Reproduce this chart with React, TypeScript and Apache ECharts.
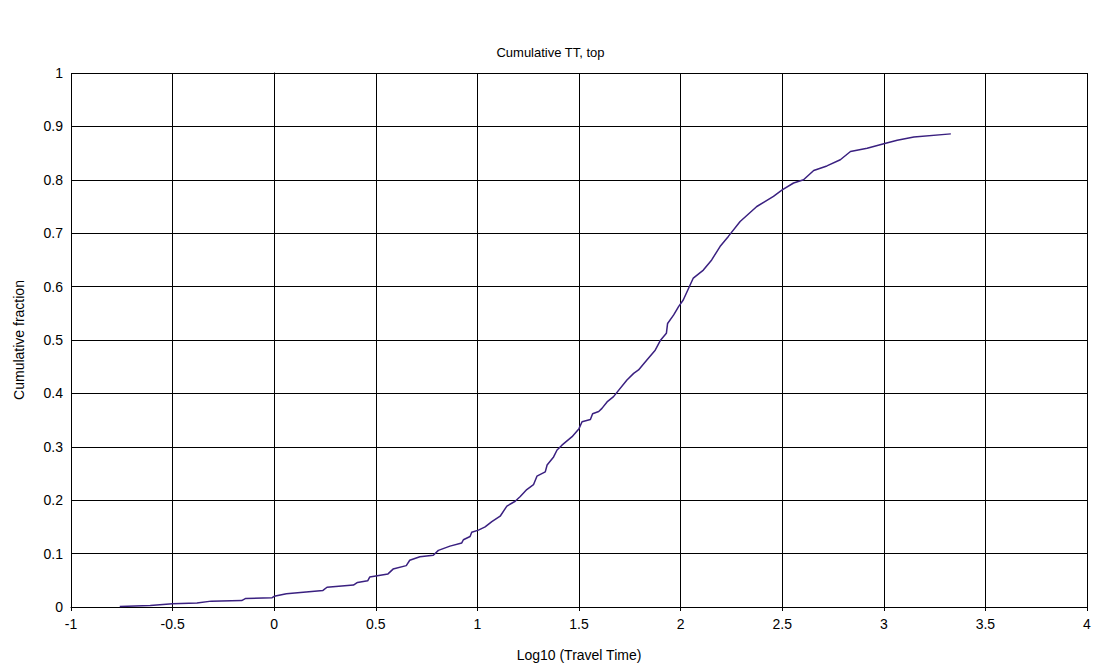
import React, { useEffect, useRef } from "react";
import * as echarts from "echarts";

const TITLE = "Cumulative TT, top";
const X_NAME = "Log10 (Travel Time)";
const Y_NAME = "Cumulative fraction";

const logTT: number[] = [
  -0.76, -0.61, -0.5, -0.38, -0.31, -0.16, -0.14, -0.01, 0.0, 0.06, 0.24, 0.26,
  0.39, 0.41, 0.46, 0.47, 0.56, 0.585, 0.65, 0.667, 0.717, 0.783, 0.808, 0.865,
  0.923, 0.931, 0.964, 0.972, 1.005, 1.038, 1.071, 1.112, 1.145, 1.186, 1.211,
  1.243, 1.276, 1.293, 1.334, 1.343, 1.375, 1.392, 1.416, 1.466, 1.5, 1.515,
  1.556, 1.567, 1.597, 1.613, 1.638, 1.67, 1.736, 1.769, 1.793, 1.834, 1.875,
  1.9, 1.93, 1.936, 1.966, 1.99, 2.013, 2.0625, 2.112, 2.153, 2.194, 2.235,
  2.293, 2.375, 2.457, 2.5, 2.556, 2.605, 2.655, 2.72, 2.786, 2.836, 2.918, 3.0,
  3.066, 3.148, 3.33,
];

const cumFraction: number[] = [
  0.001, 0.003, 0.006, 0.0075, 0.011, 0.012, 0.016, 0.0175, 0.02, 0.025, 0.031,
  0.037, 0.041, 0.046, 0.049, 0.056, 0.062, 0.071, 0.0775, 0.0875, 0.094, 0.097,
  0.106, 0.114, 0.12, 0.126, 0.132, 0.14, 0.144, 0.15, 0.16, 0.17, 0.189, 0.198,
  0.207, 0.22, 0.229, 0.245, 0.253, 0.266, 0.281, 0.294, 0.303, 0.319, 0.334,
  0.347, 0.351, 0.362, 0.366, 0.372, 0.384, 0.394, 0.425, 0.4375, 0.444, 0.4625,
  0.481, 0.499, 0.5125, 0.531, 0.547, 0.5625, 0.575, 0.616, 0.631, 0.65, 0.675,
  0.694, 0.722, 0.75, 0.769, 0.781, 0.794, 0.8, 0.8175, 0.826, 0.8375, 0.853,
  0.859, 0.8675, 0.874, 0.88, 0.886,
];

const X_TICKS = { min: -1, max: 4, interval: 0.5 };
const Y_TICKS = { min: 0, max: 1, interval: 0.1 };

export default function App() {
  const ref = useRef<HTMLDivElement>(null);
  useEffect(() => {
    if (!ref.current) return;
    const chart = echarts.init(ref.current, undefined, { renderer: "svg" });
    const font = "'Liberation Sans', Arial, Helvetica, sans-serif";
    const axisCommon = {
      axisLine: { show: true, lineStyle: { color: "#000", width: 1 } },
      axisTick: { show: true, inside: false, length: 4, lineStyle: { color: "#000" } },
      axisLabel: { color: "#000", fontSize: 14, fontFamily: font },
      splitLine: { show: true, lineStyle: { color: "#000", width: 1 } },
      nameTextStyle: { color: "#000", fontSize: 14, fontFamily: font },
    };
    chart.setOption({
      animation: false,
      backgroundColor: "#fff",
      title: {
        text: TITLE,
        left: "center",
        top: 41,
        textStyle: { color: "#000", fontSize: 13, fontWeight: "normal", fontFamily: font },
      },
      grid: {
        left: 71,
        right: 14,
        top: 73,
        bottom: 60,
        containLabel: false,
        outerBoundsMode: "none",
      },
      xAxis: {
        type: "value",
        ...X_TICKS,
        ...axisCommon,
        axisLabel: { ...axisCommon.axisLabel, margin: 10 },
        name: X_NAME,
        nameLocation: "middle",
        nameGap: 41,
      },
      yAxis: {
        type: "value",
        ...Y_TICKS,
        ...axisCommon,
        axisLabel: { ...axisCommon.axisLabel, margin: 8 },
        name: Y_NAME,
        nameLocation: "middle",
        nameRotate: 90,
        nameGap: 45,
      },
      series: [
        {
          type: "line",
          data: logTT.map((x, i) => [x, cumFraction[i]]),
          showSymbol: false,
          lineStyle: { color: "#3a2080", width: 1.5 },
          itemStyle: { color: "#3a2080" },
        },
      ],
    });
    return () => chart.dispose();
  }, []);
  return (
    <div
      ref={ref}
      style={{ position: "fixed", left: 0, top: 0, width: 1101, height: 667 }}
    />
  );
}
